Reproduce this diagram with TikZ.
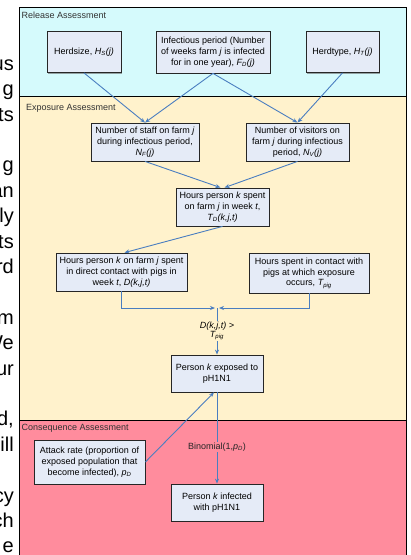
\documentclass[tikz,border=0pt]{standalone}
\usepackage{fontspec}
\setmainfont{Liberation Sans}
\usepackage{xcolor}
\usetikzlibrary{shadows,arrows.meta}
\definecolor{relcol}{HTML}{D5FAFC}
\definecolor{expcol}{HTML}{FFF2CC}
\definecolor{conscol}{HTML}{FF8C9D}
\definecolor{boxcol}{HTML}{E5EBF7}
\definecolor{linecol}{HTML}{4A7EC0}

\begin{document}
\begin{tikzpicture}[x=1pt,y=-1pt,font=\fontsize{9}{10.8}\selectfont]
    \tikzstyle{box} = [rectangle, align=center, draw=black!85, line width=0.8pt, fill=boxcol, inner sep=2pt, drop shadow={shadow xshift=1.2pt, shadow yshift=-1.2pt, fill=black!60, opacity=0.6}]
    \tikzstyle{line} = [draw=linecol, line width=0.9pt, -{Stealth[length=5pt,width=4pt]}]
    \tikzstyle{band} = [draw=black, line width=0.7pt]
    \tikzstyle{title} = [anchor=west, inner sep=0pt, text=black!80]
    \useasboundingbox (0,0) rectangle (411,555);
    % text of the page beside the figure, cut at the edge
    \begin{scope}
        \clip (0,0) rectangle (17,555);
        \foreach \n/\w in {0/us, 1/g, 2/ts, 4/g, 5/an, 6/ly, 7/ts, 8/rd, 10/m, 11/We, 12/ur, 14/{d,}, 15/ill, 17/cy, 18/ch, 19/e}
            \node[anchor=base east, inner sep=0pt, font=\fontsize{20}{20}\selectfont] (f\n) at (14,70.2+25.4*\n) {\w};
    \end{scope}
    % the three stages
    \draw[band, fill=relcol] (19.5,7) rectangle (406.5,96);
    \draw[band, fill=expcol] (19.5,96) rectangle (406.5,420);
    \draw[band, fill=conscol] (19.5,420) rectangle (406.5,557);
    \node[title] (t1) at (21.5,15) {Release Assessment};
    \node[title] (t2) at (26,108.5) {Exposure Assessment};
    \node[title] (t3) at (21.5,428.5) {Consequence Assessment};
    % release
    \node[box, minimum width=74, minimum height=41] (r1) at (84,52) {Herdsize, \textit{H\textsubscript{S}(j)}};
    \node[box, minimum width=114, minimum height=42] (r2) at (213,52) {Infectious period (Number\\of weeks farm \textit{j} is infected\\for in one year), \textit{F\textsubscript{D}(j)}};
    \node[box, minimum width=73, minimum height=41] (r3) at (342.5,52) {Herdtype, \textit{H\textsubscript{T}(j)}};
    % exposure
    \node[box, minimum width=108, minimum height=38] (e1) at (145,142) {Number of staff on farm \textit{j}\\during infectious period,\\\textit{N\textsubscript{F}(j)}};
    \node[box, minimum width=103, minimum height=38] (e2) at (297.5,142) {Number of visitors on\\farm \textit{j} during infectious\\period, \textit{N\textsubscript{V}(j)}};
    \node[box, minimum width=93, minimum height=38] (e3) at (222.5,207) {Hours person \textit{k} spent\\on farm \textit{j} in week \textit{t},\\\textit{T\textsubscript{D}(k,j,t)}};
    \node[box, minimum width=131, minimum height=38] (e4) at (121.5,272) {Hours person \textit{k} on farm \textit{j} spent\\in direct contact with pigs in\\week \textit{t}, \textit{D(k,j,t)}};
    \node[box, minimum width=120, minimum height=40] (e5) at (309,273) {Hours spent in contact with\\pigs at which exposure\\occurs, \textit{T\textsubscript{pig}}};
    \node[box, minimum width=92, minimum height=37] (x1) at (217,373.5) {Person \textit{k} exposed to\\pH1N1};
    % consequence
    \node[box, minimum width=111, minimum height=44] (c1) at (89.5,462) {Attack rate (proportion of\\exposed population that\\become infected), \textit{p\textsubscript{D}}};
    \node[box, minimum width=92, minimum height=37] (c2) at (217,502.5) {Person \textit{k} infected\\with pH1N1};
    % links
    \draw[line] (r1.south) -- (e1.north);
    \draw[line] (r2.south) -- (e1.north);
    \draw[line] (r2.south) -- (e2.north);
    \draw[line] (r3.south) -- (e2.north);
    \draw[line] (e1.south) -- ([xshift=-2pt]e3.north);
    \draw[line] (e2.south) -- ([xshift=2pt]e3.north);
    \draw[line] (e3.south) -- ([xshift=3pt]e4.north);
    \coordinate (m) at (217,308);
    \draw[line] (e4.south) |- ([xshift=-2pt]m);
    \draw[line] (e5.south) |- ([xshift=2pt]m);
    \draw[line] (m) -- (x1.north) node[pos=0.49, fill=expcol, inner sep=1pt, align=center, font=\fontsize{9}{9.5}\selectfont\itshape] (cond) {D(k,j,t) >\\T\textsubscript{pig}};
    \draw[line] (c1.east) -- ([xshift=-3pt]x1.south);
    \draw[line] (x1.south) -- (c2.north) node[pos=0.6, fill=conscol, inner sep=1pt, text=black!85] (bin) {Binomial(1,\textit{p\textsubscript{D}})};
\end{tikzpicture}
\end{document}
